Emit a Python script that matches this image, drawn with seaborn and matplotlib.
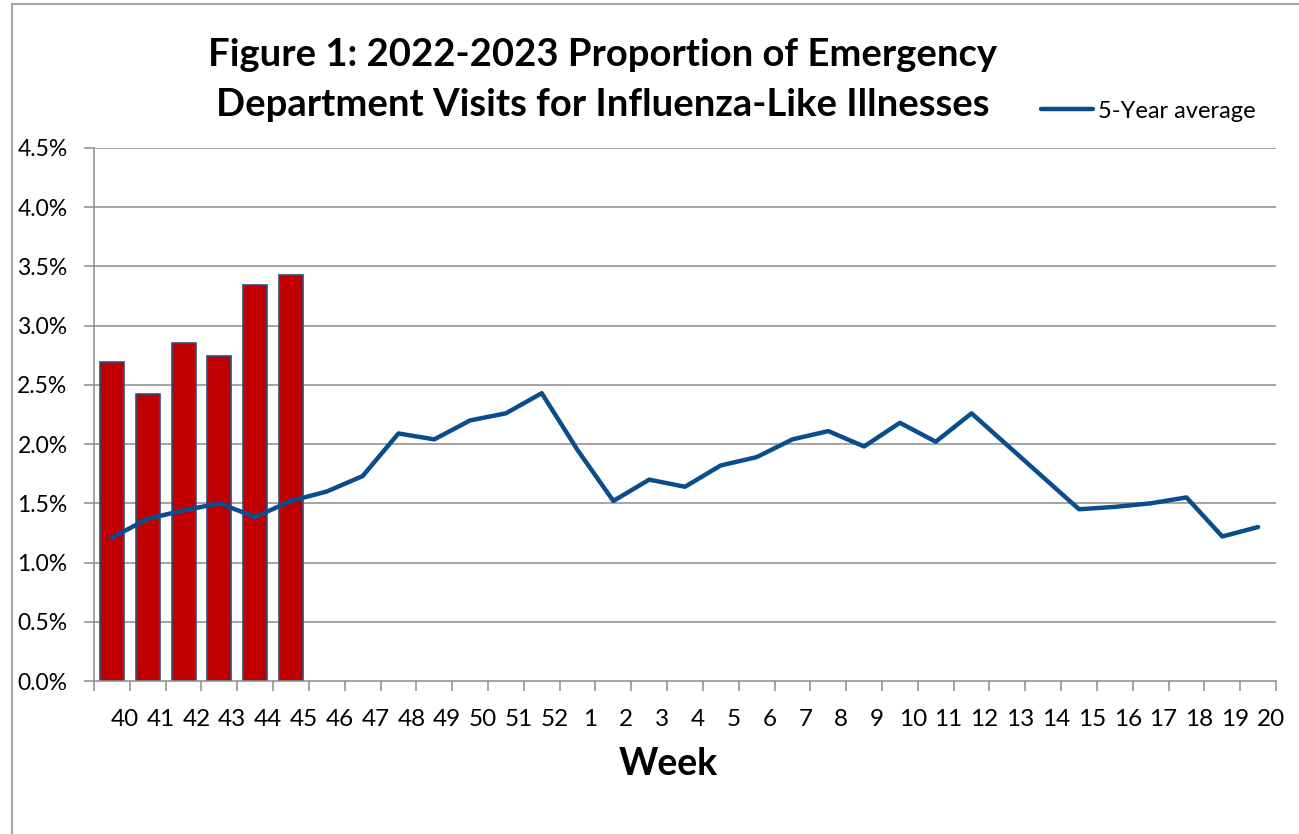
import numpy as np
import pandas as pd
import matplotlib
matplotlib.use("Agg")
import matplotlib.pyplot as plt
import seaborn as sns
from matplotlib.patches import Rectangle

weeks = [str(w) for w in range(40, 53)] + [str(w) for w in range(1, 21)]
ili_weeks = ["40", "41", "42", "43", "44", "45"]
ili_2022 = [2.69, 2.42, 2.85, 2.74, 3.34, 3.43]
avg_5yr = [1.21, 1.37, 1.44, 1.50, 1.385, 1.52, 1.60, 1.73, 2.09, 2.04,
           2.20, 2.26, 2.43, 1.95, 1.52, 1.70, 1.64, 1.82, 1.89, 2.04,
           2.11, 1.98, 2.18, 2.02, 2.26, 1.99, 1.72, 1.45, 1.47, 1.50,
           1.55, 1.22, 1.30]
y_ticks = [0.0, 0.5, 1.0, 1.5, 2.0, 2.5, 3.0, 3.5, 4.0, 4.5]

sns.set_theme(style="white")
plt.rcParams["font.family"] = ["Lato", "DejaVu Sans"]
plt.rcParams["text.color"] = "black"
plt.rcParams["xtick.labelcolor"] = "black"
plt.rcParams["ytick.labelcolor"] = "black"

pos = {w: i for i, w in enumerate(weeks)}
df_bar = pd.DataFrame({"pos": [pos[w] for w in ili_weeks], "val": ili_2022})
df_line = pd.DataFrame({"pos": [pos[w] for w in weeks], "val": avg_5yr})

fig = plt.figure(figsize=(12.99, 8.34), dpi=100)
ax = fig.add_axes([94 / 1299, 1 - 681 / 834, (1276 - 94) / 1299, (681 - 148) / 834])

grid_col = "#8C8C8C"
ax.set_axisbelow(True)
for t in y_ticks[1:]:
    ax.axhline(t, color=grid_col, lw=1.1, zorder=0)

sns.barplot(data=df_bar, x="pos", y="val", native_scale=True, width=0.67,
            color="#C00000", edgecolor="#2E4F7A", linewidth=1.2,
            saturation=1, ax=ax, zorder=2)
sns.lineplot(data=df_line, x="pos", y="val", color="#0A4D8C", lw=3.2,
             label="5-Year average", ax=ax, zorder=3)

ax.set_xlim(-0.5, len(weeks) - 0.5)
ax.set_ylim(0, 4.5)
ax.set_yticks(y_ticks)
ax.set_yticklabels([f"{t:.1f}%" for t in y_ticks], fontsize=16.5)

# tick marks on category boundaries, labels just left of each boundary
ax.set_xticks(np.arange(-0.5, len(weeks)))
ax.set_xticklabels([])
ax.set_xticks(np.arange(len(weeks)) + 0.36, minor=True)
ax.set_xticklabels(weeks, minor=True, fontsize=17.5)
ax.tick_params(axis="y", length=7, width=1.1, color=grid_col, pad=12, left=True)
ax.tick_params(axis="x", which="major", length=7, width=1.1, color=grid_col, bottom=True)
ax.tick_params(axis="x", which="minor", length=0, pad=20, bottom=True)

for s in ["top", "right"]:
    ax.spines[s].set_visible(False)
for s in ["left", "bottom"]:
    ax.spines[s].set_color(grid_col)
    ax.spines[s].set_linewidth(1.1)

ax.set_xlabel("")
ax.set_ylabel("")
fig.text(668 / 1299, 1 - 764 / 834, "Week", ha="center", va="center",
         fontsize=27, fontweight="bold")

fig.text(603 / 1299, 1 - 80 / 834,
         "Figure 1: 2022-2023 Proportion of Emergency\nDepartment Visits for Influenza-Like Illnesses",
         ha="center", va="center", fontsize=27.5, fontweight="bold", linespacing=1.55)

leg = ax.legend(loc="center left", bbox_to_anchor=(1020 / 1299, 1 - 111 / 834),
                bbox_transform=fig.transFigure, frameon=False, fontsize=17,
                handlelength=2.2, handletextpad=0.2)

fig.patches.append(Rectangle((12 / 1299, -0.1), 1.2, 1.1 - 4 / 834,
                             transform=fig.transFigure, fill=False,
                             edgecolor="#A6A6A6", lw=1.5))

fig.savefig("out.png", dpi=100)
